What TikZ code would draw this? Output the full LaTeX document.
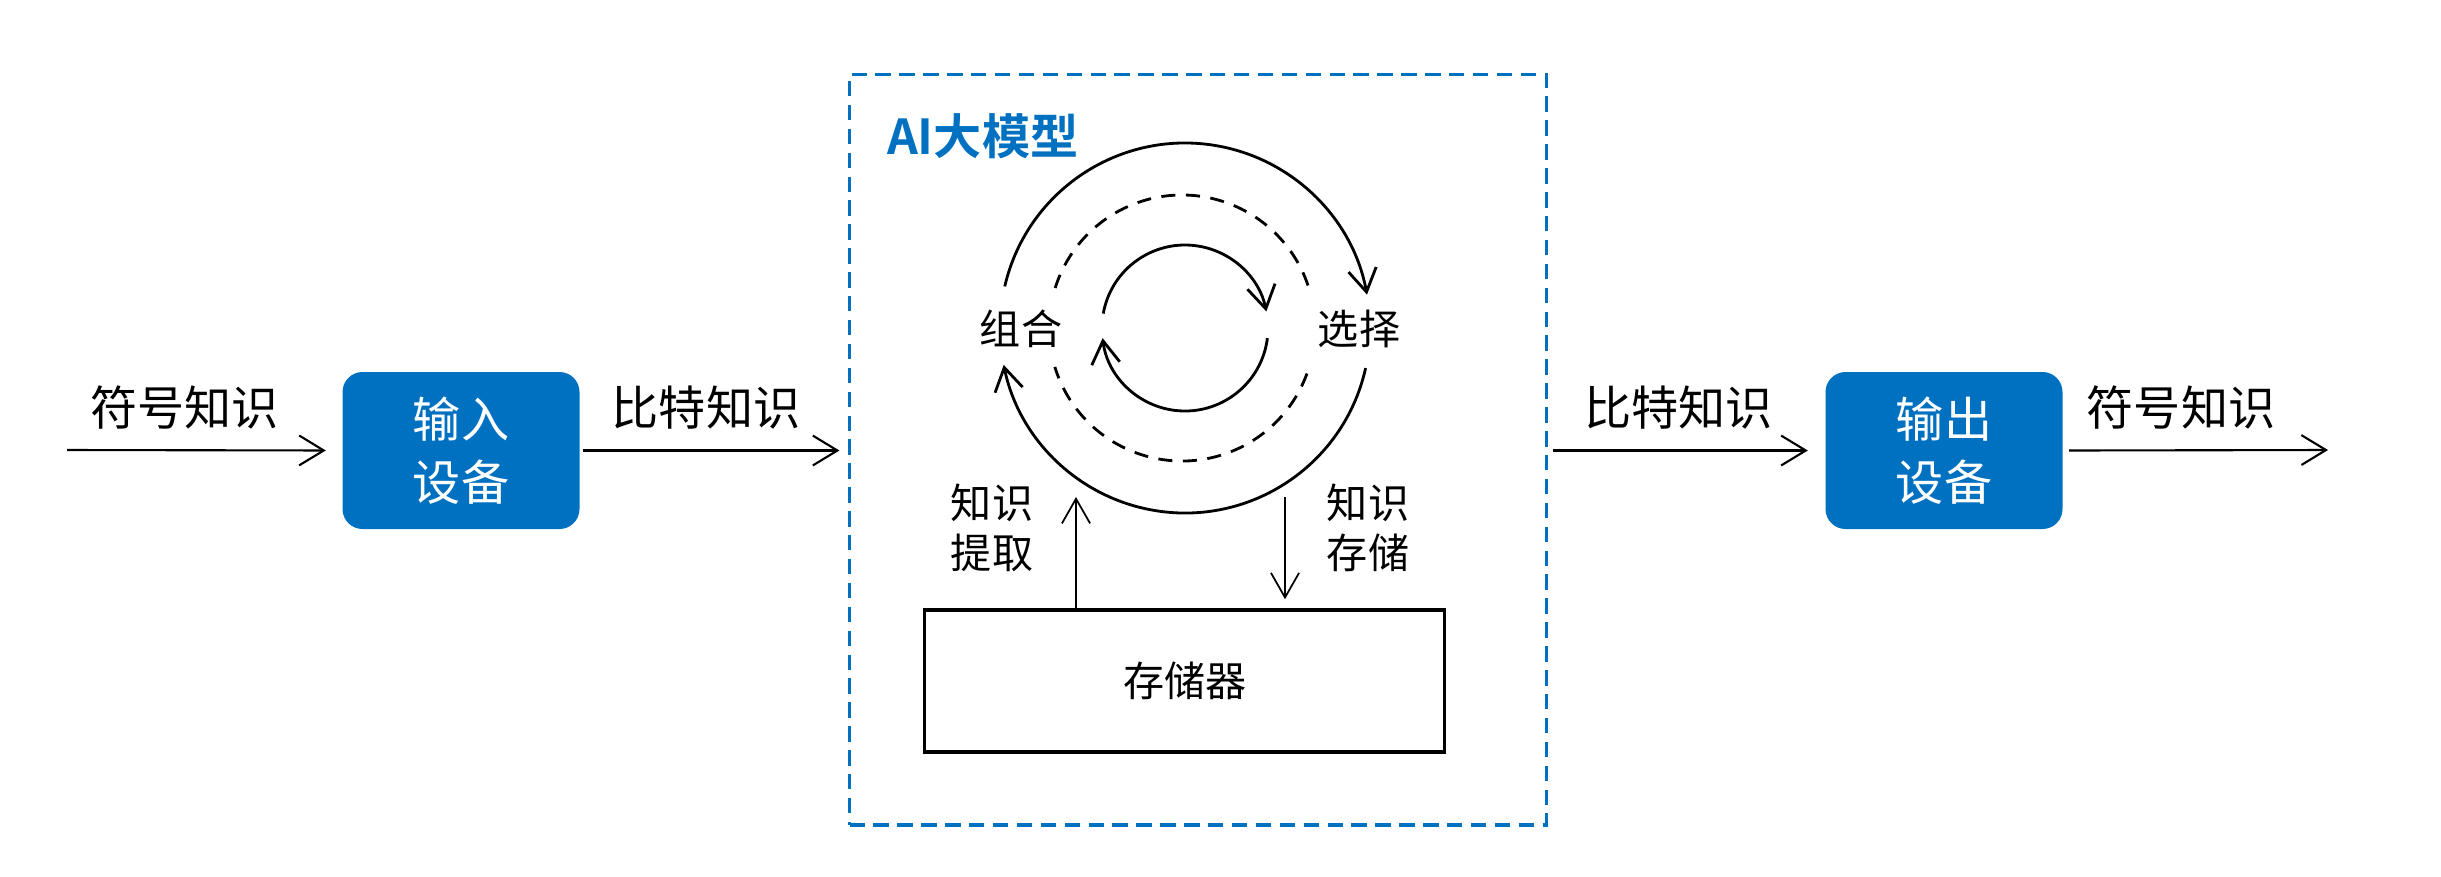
\documentclass[tikz,border=0pt]{standalone}
\usepackage{fontspec}
\setmainfont{Noto Sans CJK SC}
\newfontfamily\cjkbold{Noto Sans CJK SC Bold}
\usetikzlibrary{arrows.meta}
\definecolor{aiblue}{RGB}{0,112,192}
\begin{document}
\begin{tikzpicture}[x=0.1mm,y=-0.1mm,
  lbl/.style={font=\fontsize{13.4pt}{16pt}\selectfont, inner sep=0pt},
  small/.style={font=\fontsize{11.7pt}{14.2pt}\selectfont, inner sep=0pt, align=center},
  dev/.style={fill=aiblue, rounded corners=2mm, minimum width=23.7mm, minimum height=15.7mm,
    text=white, align=center, font=\fontsize{13.7pt}{18pt}\selectfont, inner sep=0pt},
  flow/.style={line width=0.6pt, -{Straight Barb[length=7pt,width=8.5pt]}},
  cyc/.style={line width=0.8pt, -{Straight Barb[length=6.5pt,width=8pt]}},
  vert/.style={line width=0.5pt, -{Straight Barb[length=7pt,width=8pt]}},
  dcyc/.style={line width=0.8pt, dash pattern=on 4pt off 3pt},
]
\useasboundingbox (0,0) rectangle (2441,876);
% main boxes
\node[draw=aiblue, line width=0.9pt, dash pattern=on 4.4pt off 2.4pt,
  minimum width=69.7mm, minimum height=75.05mm, inner sep=0pt] (ai) at (1198,449.75) {};
\node[font=\cjkbold\fontsize{13.7pt}{16pt}\selectfont, text=aiblue, inner sep=0pt] (title) at (982.7,136) {AI大模型};
\node[dev] (in) at (461,450.5) {输入\\设备};
\node[dev] (out) at (1944,450.5) {输出\\设备};
\node[draw, line width=1pt, minimum width=52mm, minimum height=14.2mm, inner sep=0pt,
  font=\fontsize{11.7pt}{14pt}\selectfont] (mem) at (1184.7,681) {存储器};
% outside labels
\node[lbl] (l1) at (184.5,408) {符号知识};
\node[lbl] (l2) at (706,408) {比特知识};
\node[lbl] (l3) at (1678.6,408) {比特知识};
\node[lbl] (l4) at (2181,408) {符号知识};
% horizontal flow
\coordinate (lin) at (67,450);
\coordinate (rout) at (2328,450);
\draw[flow, shorten >=1.6mm] (lin) -- (in.west);
\draw[flow, shorten <=0.3mm, shorten >=0.85mm] (in.east) -- (in.east -| ai.west);
\draw[flow, shorten <=0.45mm, shorten >=1.7mm] (ai.east |- out.west) -- (out.west);
\draw[flow, shorten <=0.6mm] (out.east) -- (rout);
% cycle
\coordinate (c) at (1185,328);
\coordinate (cd) at (1182,328);
\node[small] (zh) at (1021,329) {组合};
\node[small] (xz) at (1359,329) {选择};
\node[small] (tq) at (992,528) {知识\\提取};
\node[small] (cc) at (1368,528) {知识\\存储};
\draw[cyc] ([shift={(167:18.5mm)}]c) arc[start angle=167, end angle=10.4, radius=18.5mm];
\draw[cyc] ([shift={(-12.5:18.5mm)}]c) arc[start angle=-12.5, end angle=-168.5, radius=18.5mm];
\draw[dcyc] ([shift={(162.5:13.3mm)}]cd) arc[start angle=162.5, end angle=18.5, radius=13.3mm];
\draw[dcyc] ([shift={(-20:13.3mm)}]cd) arc[start angle=-20, end angle=-163, radius=13.3mm];
\draw[cyc] ([shift={(170:8.3mm)}]c) arc[start angle=170, end angle=11.5, radius=8.3mm];
\draw[cyc] ([shift={(-7:8.3mm)}]c) arc[start angle=-7, end angle=-173, radius=8.3mm];
% storage arrows
\coordinate (up) at (1076,497);
\coordinate (dn) at (1285,497);
\draw[vert] (up |- mem.north) -- (up);
\draw[vert, shorten >=0.9mm] (dn) -- (dn |- mem.north);
\end{tikzpicture}
\end{document}
